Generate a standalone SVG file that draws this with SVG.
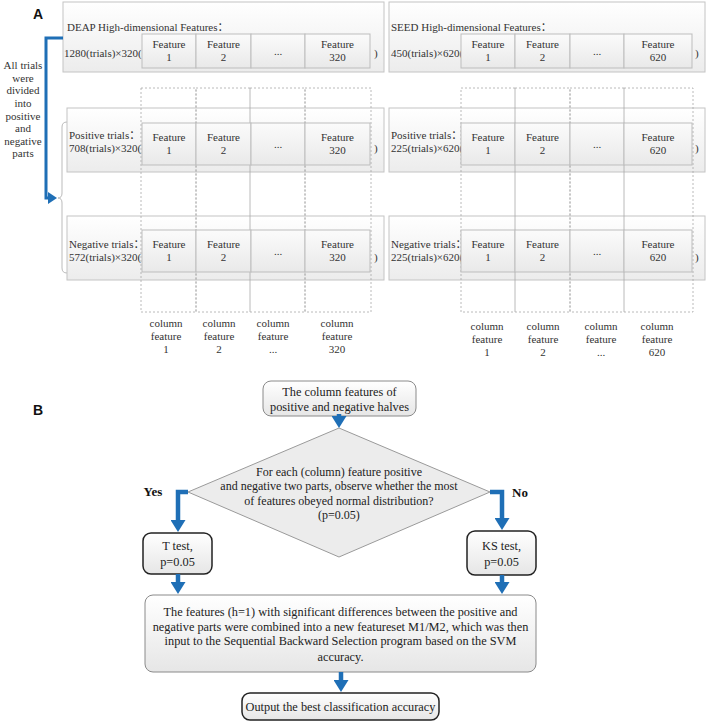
<svg xmlns="http://www.w3.org/2000/svg" width="710" height="725" viewBox="0 0 710 725">
<defs>
<linearGradient id="boxG" x1="0" y1="0" x2="0" y2="1"><stop offset="0" stop-color="#ffffff"/><stop offset="1" stop-color="#ececec"/></linearGradient>
<linearGradient id="cellG" x1="0" y1="0" x2="0" y2="1"><stop offset="0" stop-color="#fbfbfb"/><stop offset="1" stop-color="#e9e9e9"/></linearGradient>
<linearGradient id="bG" x1="0" y1="0" x2="0" y2="1"><stop offset="0" stop-color="#ffffff"/><stop offset="1" stop-color="#e6e6e6"/></linearGradient>
<marker id="ah" markerUnits="userSpaceOnUse" markerWidth="15" markerHeight="15" refX="1" refY="7.5" orient="auto"><path d="M0,0 L12,7.5 L0,15 z" fill="#1f6fb6"/></marker>
<marker id="ahs" markerUnits="userSpaceOnUse" markerWidth="12" markerHeight="12" refX="1" refY="6" orient="auto"><path d="M0,0 L9,6 L0,12 z" fill="#1f6fb6"/></marker>
<style>
.t{font-family:"Liberation Serif","Times New Roman",serif;font-size:11px;fill:#333}
.cj{font-family:"Noto Sans CJK SC",sans-serif}
.c{text-anchor:middle}
.lbl{font-family:"Liberation Sans",Arial,sans-serif;font-weight:bold;font-size:14px;fill:#111}
.tb{font-family:"Liberation Serif","Times New Roman",serif;font-size:12.3px;fill:#222;text-anchor:middle}
.td{font-size:12px}
.yn{font-family:"Liberation Serif","Times New Roman",serif;font-size:13px;font-weight:bold;fill:#111;text-anchor:middle}
.ob{fill:url(#boxG);stroke:#c4c4c4;stroke-width:1}
.cell{fill:url(#cellG);stroke:#bdbdbd;stroke-width:1}
.dash{fill:none;stroke:#a8a8a8;stroke-width:0.8;stroke-dasharray:2,2}
.conn{fill:none;stroke:#1f6fb6;stroke-width:4.5;marker-end:url(#ah)}
.conns{fill:none;stroke:#1f6fb6;stroke-width:3;marker-end:url(#ahs)}
.rb{fill:url(#bG);stroke:#8a8a8a;stroke-width:1}
.rk{fill:url(#bG);stroke:#222;stroke-width:1.5}
.br{fill:none;stroke:#bbb;stroke-width:1}
</style>
</defs>
<rect width="710" height="725" fill="#ffffff"/>

<text class="lbl" x="33" y="19">A</text>
<text class="lbl" x="33" y="415">B</text>

<g id="left-note">
<text class="t c" x="23" y="69">All trials</text>
<text class="t c" x="23" y="82">were</text>
<text class="t c" x="23" y="94">divided</text>
<text class="t c" x="23" y="107">into</text>
<text class="t c" x="23" y="120">positive</text>
<text class="t c" x="23" y="132">and</text>
<text class="t c" x="23" y="145">negative</text>
<text class="t c" x="23" y="157">parts</text>
<path class="br" d="M67,122 Q62,122 62,127 L62,193 Q62,198 58,198 Q62,198 62,203 L62,268 Q62,273 67,273"/>
</g>

<g id="deap-all">
<rect class="ob" x="63" y="2" width="321" height="70"/>
<text class="t" x="67" y="31">DEAP High-dimensional Features<tspan class="cj">：</tspan></text>
<text class="t" x="64" y="57">1280(trials)×320(</text>
<rect class="cell" x="142" y="34" width="54" height="34"/>
<rect class="cell" x="196" y="34" width="55" height="34"/>
<rect class="cell" x="251" y="34" width="54" height="34"/>
<rect class="cell" x="305" y="34" width="65" height="34"/>
<text class="t c" x="169" y="48">Feature</text><text class="t c" x="169" y="61">1</text>
<text class="t c" x="223.5" y="48">Feature</text><text class="t c" x="223.5" y="61">2</text>
<text class="t c" x="278" y="55">...</text>
<text class="t c" x="337.5" y="48">Feature</text><text class="t c" x="337.5" y="61">320</text>
<text class="t" x="374" y="57">)</text>
</g>

<g id="seed-all">
<rect class="ob" x="389" y="2" width="316" height="70"/>
<text class="t" x="391" y="31">SEED High-dimensional Features<tspan class="cj">：</tspan></text>
<text class="t" x="391" y="57">450(trials)×620(</text>
<rect class="cell" x="461" y="34" width="54" height="34"/>
<rect class="cell" x="515" y="34" width="55" height="34"/>
<rect class="cell" x="570" y="34" width="54" height="34"/>
<rect class="cell" x="624" y="34" width="68" height="34"/>
<text class="t c" x="488" y="48">Feature</text><text class="t c" x="488" y="61">1</text>
<text class="t c" x="542.5" y="48">Feature</text><text class="t c" x="542.5" y="61">2</text>
<text class="t c" x="597" y="55">...</text>
<text class="t c" x="658" y="48">Feature</text><text class="t c" x="658" y="61">620</text>
<text class="t" x="695" y="57">)</text>
</g>

<g id="deap-pos-box"><rect class="ob" x="67" y="108" width="317" height="64"/></g>
<g id="deap-neg-box"><rect class="ob" x="67" y="216" width="317" height="64"/></g>
<g id="seed-pos-box"><rect class="ob" x="389" y="108" width="316" height="64"/></g>
<g id="seed-neg-box"><rect class="ob" x="389" y="216" width="316" height="64"/></g>

<g id="columns">
<rect class="dash" x="141" y="88" width="55" height="224"/>
<rect class="dash" x="196" y="88" width="54" height="224"/>
<rect class="dash" x="250" y="88" width="55" height="224"/>
<rect class="dash" x="305" y="88" width="66" height="224"/>
<rect class="dash" x="461" y="88" width="54" height="224"/>
<rect class="dash" x="515" y="88" width="55" height="224"/>
<rect class="dash" x="570" y="88" width="54" height="224"/>
<rect class="dash" x="624" y="88" width="69" height="224"/>
</g>

<g id="deap-pos">
<text class="t" x="69" y="139">Positive trials<tspan class="cj">：</tspan></text>
<text class="t" x="69" y="152">708(trials)×320(</text>
<rect class="cell" x="142" y="123" width="54" height="42"/>
<rect class="cell" x="196" y="123" width="55" height="42"/>
<rect class="cell" x="251" y="123" width="54" height="42"/>
<rect class="cell" x="305" y="123" width="65" height="42"/>
<text class="t c" x="169" y="141">Feature</text><text class="t c" x="169" y="154">1</text>
<text class="t c" x="223.5" y="141">Feature</text><text class="t c" x="223.5" y="154">2</text>
<text class="t c" x="278" y="148">...</text>
<text class="t c" x="337.5" y="141">Feature</text><text class="t c" x="337.5" y="154">320</text>
<text class="t" x="374" y="152">)</text>
</g>

<g id="deap-neg">
<text class="t" x="69" y="248">Negative trials<tspan class="cj">：</tspan></text>
<text class="t" x="69" y="261">572(trials)×320(</text>
<rect class="cell" x="142" y="230" width="54" height="42"/>
<rect class="cell" x="196" y="230" width="55" height="42"/>
<rect class="cell" x="251" y="230" width="54" height="42"/>
<rect class="cell" x="305" y="230" width="65" height="42"/>
<text class="t c" x="169" y="248">Feature</text><text class="t c" x="169" y="261">1</text>
<text class="t c" x="223.5" y="248">Feature</text><text class="t c" x="223.5" y="261">2</text>
<text class="t c" x="278" y="255">...</text>
<text class="t c" x="337.5" y="248">Feature</text><text class="t c" x="337.5" y="261">320</text>
<text class="t" x="374" y="261">)</text>
</g>

<g id="seed-pos">
<text class="t" x="391" y="139">Positive trials<tspan class="cj">：</tspan></text>
<text class="t" x="391" y="152">225(trials)×620(</text>
<rect class="cell" x="461" y="123" width="54" height="42"/>
<rect class="cell" x="515" y="123" width="55" height="42"/>
<rect class="cell" x="570" y="123" width="54" height="42"/>
<rect class="cell" x="624" y="123" width="68" height="42"/>
<text class="t c" x="488" y="141">Feature</text><text class="t c" x="488" y="154">1</text>
<text class="t c" x="542.5" y="141">Feature</text><text class="t c" x="542.5" y="154">2</text>
<text class="t c" x="597" y="148">...</text>
<text class="t c" x="658" y="141">Feature</text><text class="t c" x="658" y="154">620</text>
<text class="t" x="695" y="152">)</text>
</g>

<g id="seed-neg">
<text class="t" x="391" y="248">Negative trials<tspan class="cj">：</tspan></text>
<text class="t" x="391" y="261">225(trials)×620(</text>
<rect class="cell" x="461" y="230" width="54" height="42"/>
<rect class="cell" x="515" y="230" width="55" height="42"/>
<rect class="cell" x="570" y="230" width="54" height="42"/>
<rect class="cell" x="624" y="230" width="68" height="42"/>
<text class="t c" x="488" y="248">Feature</text><text class="t c" x="488" y="261">1</text>
<text class="t c" x="542.5" y="248">Feature</text><text class="t c" x="542.5" y="261">2</text>
<text class="t c" x="597" y="255">...</text>
<text class="t c" x="658" y="248">Feature</text><text class="t c" x="658" y="261">620</text>
<text class="t" x="695" y="261">)</text>
</g>

<g id="column-labels">
<text class="t c" x="166" y="327">column</text><text class="t c" x="166" y="340">feature</text><text class="t c" x="166" y="353">1</text>
<text class="t c" x="219" y="327">column</text><text class="t c" x="219" y="340">feature</text><text class="t c" x="219" y="353">2</text>
<text class="t c" x="273" y="327">column</text><text class="t c" x="273" y="340">feature</text><text class="t c" x="273" y="353">...</text>
<text class="t c" x="337" y="327">column</text><text class="t c" x="337" y="340">feature</text><text class="t c" x="337" y="353">320</text>
<text class="t c" x="487" y="330">column</text><text class="t c" x="487" y="343">feature</text><text class="t c" x="487" y="356">1</text>
<text class="t c" x="543" y="330">column</text><text class="t c" x="543" y="343">feature</text><text class="t c" x="543" y="356">2</text>
<text class="t c" x="601" y="330">column</text><text class="t c" x="601" y="343">feature</text><text class="t c" x="601" y="356">...</text>
<text class="t c" x="657" y="330">column</text><text class="t c" x="657" y="343">feature</text><text class="t c" x="657" y="356">620</text>
</g>

<g id="start">
<rect class="rb" x="263" y="381" width="153" height="35" rx="8"/>
<text class="tb" x="339.5" y="396">The column features of</text>
<text class="tb" x="339.5" y="411">positive and negative halves</text>
</g>
<g id="decision">
<polygon points="339,428 490,492 339,557 188,492" fill="#ececec" stroke="#9a9a9a" stroke-width="1"/>
<text class="tb td" x="339" y="476">For each (column) feature positive</text>
<text class="tb td" x="339" y="490">and negative two parts, observe whether the most</text>
<text class="tb td" x="339" y="505">of features obeyed normal distribution?</text>
<text class="tb td" x="339" y="519">(p=0.05)</text>
</g>
<g id="ttest">
<rect class="rk" x="143" y="533" width="69" height="41" rx="8"/>
<text class="tb" x="177.5" y="550">T test,</text>
<text class="tb" x="177.5" y="566">p=0.05</text>
</g>
<g id="kstest">
<rect class="rk" x="467" y="531" width="69" height="44" rx="8"/>
<text class="tb" x="501.5" y="550">KS test,</text>
<text class="tb" x="501.5" y="566">p=0.05</text>
</g>
<g id="combine">
<rect class="rb" x="145" y="595" width="391" height="77" rx="8"/>
<text class="tb" x="340.5" y="616">The features (h=1) with significant differences between the positive and</text>
<text class="tb" x="340.5" y="631">negative parts were combined  into a new featureset M1/M2, which was then</text>
<text class="tb" x="340.5" y="645">input to the Sequential Backward Selection program based on the SVM</text>
<text class="tb" x="340.5" y="661">accuracy.</text>
</g>
<g id="output">
<rect class="rk" x="242" y="693" width="197" height="27" rx="8"/>
<text class="tb" x="340.5" y="711">Output the best classification accuracy</text>
</g>
<text class="yn" x="153" y="496">Yes</text>
<text class="yn" x="520" y="497">No</text>

<g id="connectors">
<path class="conns" d="M63,38 H46 V198 H49"/>
<path class="conn" d="M339,414 V417"/>
<path class="conn" d="M188,492 H178 V521"/>
<path class="conn" d="M490,492 H502 V519"/>
<path class="conn" d="M178,574 V583"/>
<path class="conn" d="M502,575 V583"/>
<path class="conn" d="M341,672 V681"/>
</g>
</svg>
